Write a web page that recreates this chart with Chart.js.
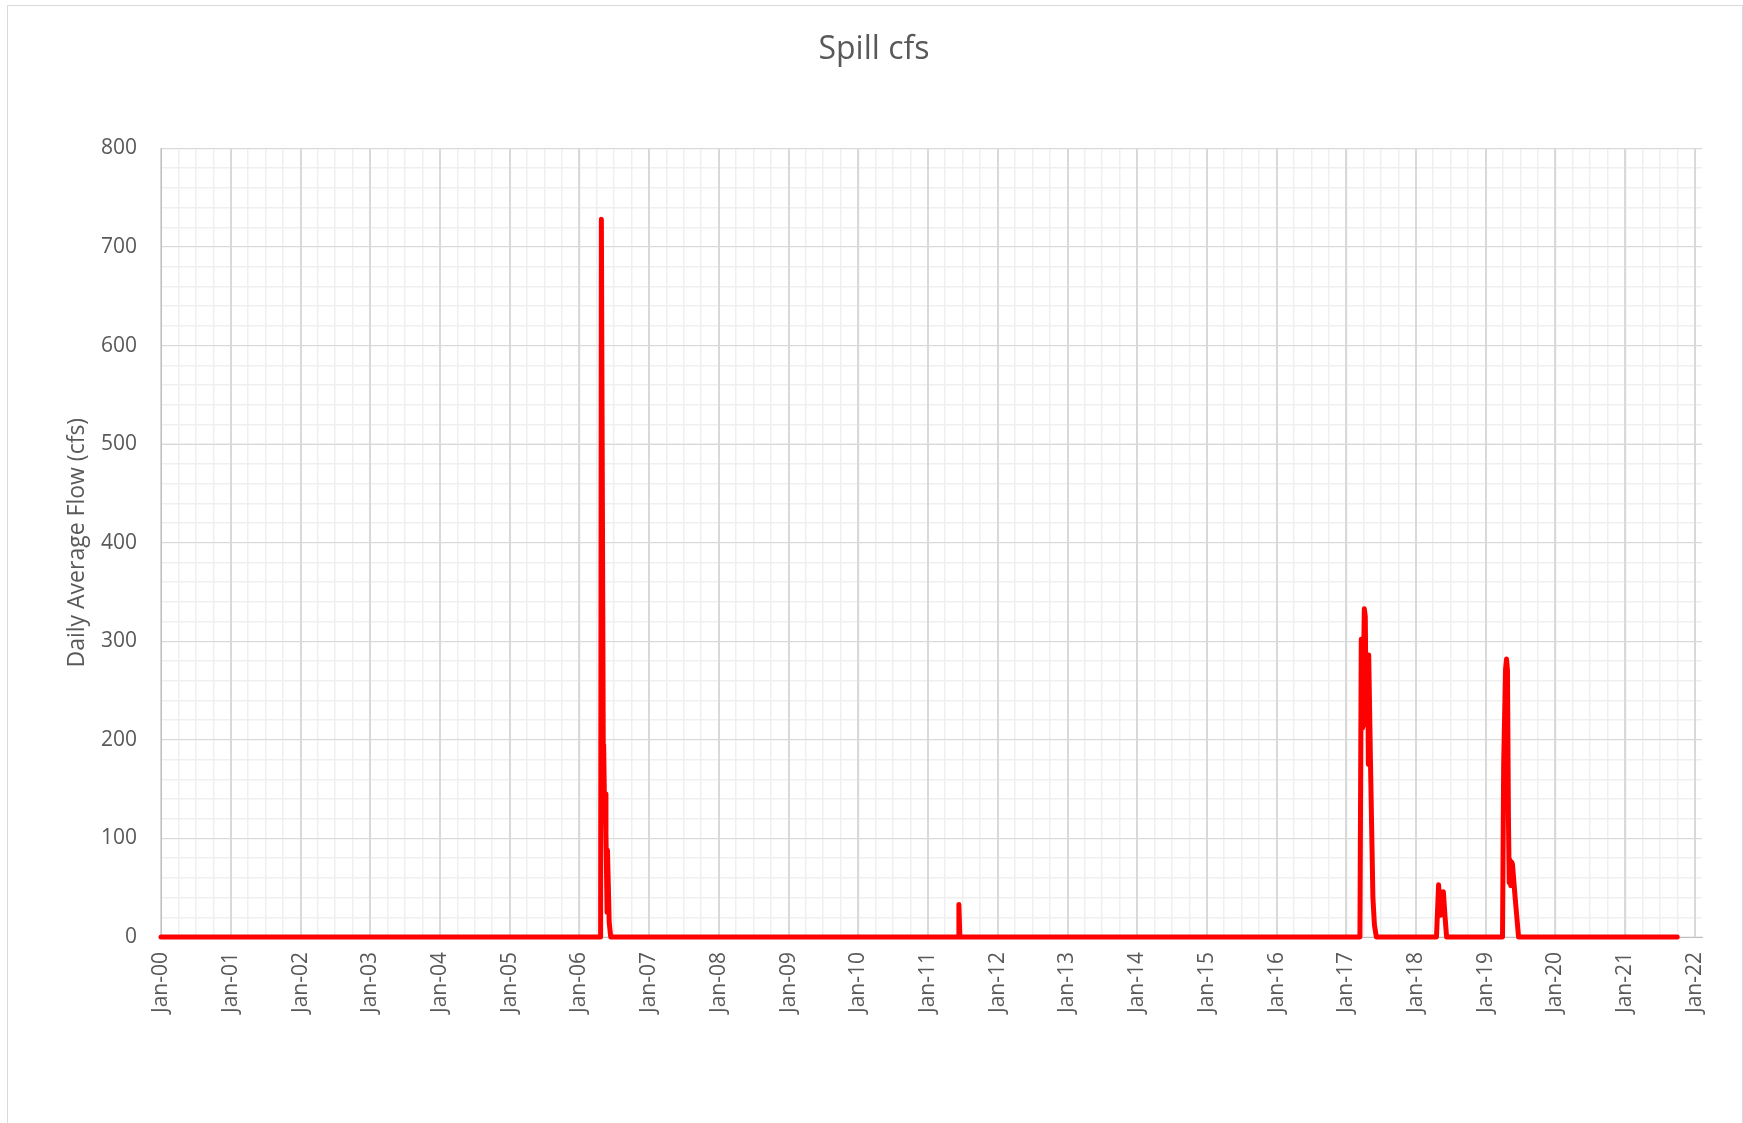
<!DOCTYPE html>
<html>
<head>
<meta charset="utf-8">
<title>Spill cfs</title>
<script src="https://cdn.jsdelivr.net/npm/chart.js@4.4.1/dist/chart.umd.min.js"></script>
<style>
    html, body { margin: 0; padding: 0; background: #fff; overflow: hidden; }
    #frame { position: absolute; left: 7px; top: 5px; width: 1734px; height: 1200px; border: 1px solid #d9d9d9; }
    #chart-spill { position: absolute; left: 0; top: 0; }
</style>
</head>
<body>
<div id="frame"></div>
<canvas id="chart-spill" width="1743" height="1123"></canvas>
<script>
const xTickLabels = ['Jan-00', 'Jan-01', 'Jan-02', 'Jan-03', 'Jan-04', 'Jan-05', 'Jan-06', 'Jan-07',
                     'Jan-08', 'Jan-09', 'Jan-10', 'Jan-11', 'Jan-12', 'Jan-13', 'Jan-14', 'Jan-15',
                     'Jan-16', 'Jan-17', 'Jan-18', 'Jan-19', 'Jan-20', 'Jan-21', 'Jan-22'];
const yTicks = [0, 100, 200, 300, 400, 500, 600, 700, 800];

// Daily average spill (cfs). Outside these events the record sits at 0.
const recordSpan = [['2000-01-01', 0], ['2021-09-30', 0]];

const spill2006 = [
    ['2006-04-22', 0], ['2006-04-26', 728], ['2006-05-06', 190], ['2006-05-08', 195],
    ['2006-05-12', 140], ['2006-05-16', 145], ['2006-05-20', 105], ['2006-05-26', 25],
    ['2006-05-28', 88], ['2006-06-06', 15], ['2006-06-14', 0],
];
const spill2011 = [
    ['2011-06-08', 0], ['2011-06-12', 33], ['2011-06-17', 0],
];
const spill2017 = [
    ['2017-03-13', 0], ['2017-03-20', 302], ['2017-03-27', 212], ['2017-04-05', 333],
    ['2017-04-10', 325], ['2017-04-15', 215], ['2017-04-18', 285], ['2017-04-23', 283],
    ['2017-04-26', 175], ['2017-04-28', 286], ['2017-05-07', 180], ['2017-05-20', 40],
    ['2017-05-28', 12], ['2017-06-07', 0],
];
const spill2018 = [
    ['2018-04-18', 0], ['2018-04-29', 53], ['2018-05-10', 22], ['2018-05-14', 30],
    ['2018-05-24', 46], ['2018-06-02', 20], ['2018-06-10', 0],
];
const spill2019 = [
    ['2019-03-30', 0], ['2019-04-05', 175], ['2019-04-08', 205], ['2019-04-15', 272],
    ['2019-04-20', 282], ['2019-04-25', 270], ['2019-04-30', 120], ['2019-05-04', 55],
    ['2019-05-08', 78], ['2019-05-12', 52], ['2019-05-17', 76], ['2019-05-21', 74],
    ['2019-06-04', 40], ['2019-06-22', 0],
];

const DAY  = 86400000;
const BASE = Date.UTC(2000, 0, 1);
const dayOf = s => (Date.parse(s + 'T00:00:00Z') - BASE) / DAY;

const X_MAX = dayOf('2022-02-07');

const series = [recordSpan[0], ...spill2006, ...spill2011, ...spill2017, ...spill2018, ...spill2019, recordSpan[1]]
    .map(([d, v]) => ({ x: dayOf(d), y: v }));

const xTickDays = xTickLabels.map((_, i) => dayOf(`${2000 + i}-01-01`));
const xQuarterDays = [];
xTickLabels.forEach((_, i) => {
    [0, 3, 6, 9].forEach(m => {
        const d = (Date.UTC(2000 + i, m, 1) - BASE) / DAY;
        if (d <= X_MAX) xQuarterDays.push(d);
    });
});
const yMinorTicks = [];
for (let v = 0; v <= 800; v += 20) yMinorTicks.push(v);

Chart.defaults.font.family = '"Open Sans", "Liberation Sans", sans-serif';
Chart.defaults.color = '#595959';

const chartSpill = new Chart(document.getElementById('chart-spill').getContext('2d'), {
    type: 'line',
    data: {
        datasets: [{
            label: 'Spill cfs',
            data: series,
            borderColor: '#ff0000',
            borderWidth: 5,
            borderJoinStyle: 'round',
            borderCapStyle: 'round',
            pointRadius: 0,
            tension: 0,
            fill: false,
            clip: 6,
        }]
    },
    options: {
        responsive: false,
        animation: false,
        events: [],
        layout: { padding: { top: 12, left: 5, right: 0, bottom: 0 } },
        plugins: {
            legend: { display: false },
            tooltip: { enabled: false },
            title: {
                display: true,
                text: 'Spill cfs',
                color: '#595959',
                font: { size: 32, weight: 'normal' },
                padding: { top: 19, bottom: 79 },
            },
        },
        scales: {
            xMinor: {
                type: 'linear', position: 'bottom', min: 0, max: X_MAX, z: -1,
                afterBuildTicks: s => { s.ticks = xQuarterDays.map(v => ({ value: v })); },
                afterFit: s => { s.height = 0; },
                ticks: { display: false },
                grid: { color: '#efefef', lineWidth: 1.5, drawTicks: false },
                border: { display: false },
            },
            yMinor: {
                type: 'linear', position: 'left', min: 0, max: 800, z: -1,
                afterBuildTicks: s => { s.ticks = yMinorTicks.map(v => ({ value: v })); },
                afterFit: s => { s.width = 0; },
                ticks: { display: false },
                grid: { color: '#efefef', lineWidth: 1.5, drawTicks: false },
                border: { display: false },
            },
            x: {
                type: 'linear', position: 'bottom', min: 0, max: X_MAX,
                afterBuildTicks: s => { s.ticks = xTickDays.map(v => ({ value: v })); },
                afterFit: s => { s.height = 186; },
                ticks: {
                    autoSkip: false,
                    minRotation: 90, maxRotation: 90,
                    padding: 15,
                    color: '#595959',
                    font: { size: 21 },
                    callback: v => {
                        const i = xTickDays.indexOf(v);
                        return i >= 0 ? xTickLabels[i] : '';
                    },
                },
                grid: { color: '#d9d9d9', lineWidth: 2, drawTicks: false },
                border: { color: '#bfbfbf', width: 1 },
            },
            y: {
                type: 'linear', position: 'left', min: 0, max: 800,
                afterBuildTicks: s => { s.ticks = yTicks.map(v => ({ value: v })); },
                afterFit: s => { s.width = 156; },
                ticks: { padding: 24, color: '#595959', font: { size: 21 } },
                grid: { color: '#d9d9d9', lineWidth: 1, drawTicks: false },
                border: { color: '#bfbfbf', width: 1 },
                title: {
                    display: true,
                    text: 'Daily Average Flow (cfs)',
                    color: '#595959',
                    font: { size: 23 },
                    padding: { top: 59, bottom: 0 },
                },
            },
            yPad: {
                type: 'linear', position: 'right', min: 0, max: 1,
                afterFit: s => { s.width = 41; },
                ticks: { display: false },
                grid: { display: false, drawTicks: false },
                border: { display: false },
            },
        }
    }
});
</script>
</body>
</html>
